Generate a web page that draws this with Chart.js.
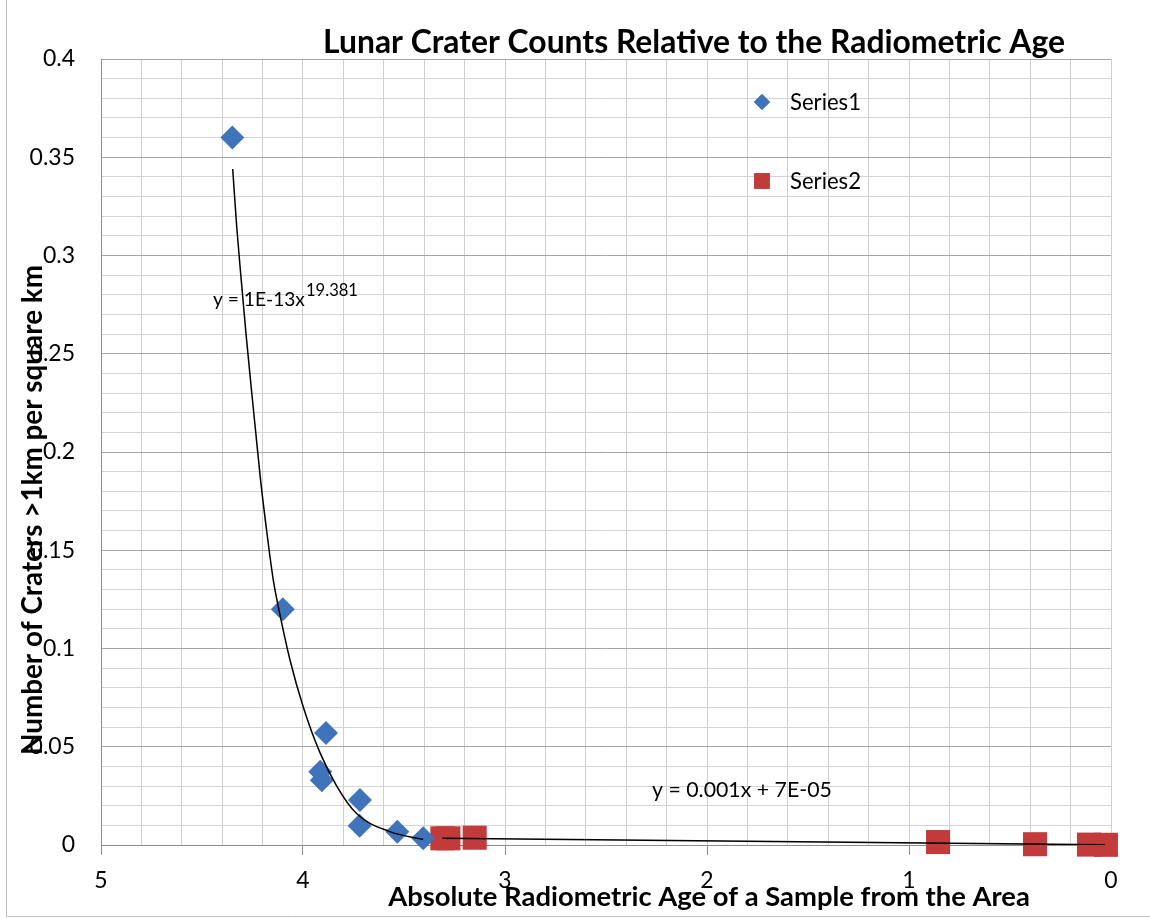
<!DOCTYPE html>
<html>
<head>
<meta charset="utf-8">
<title>Lunar Crater Counts</title>
<script src="https://cdn.jsdelivr.net/npm/chart.js@4/dist/chart.umd.min.js"></script>
<style>
  html, body { margin: 0; padding: 0; background: #fff; }
  #wrap { width: 1150px; height: 918px; position: relative; }
</style>
</head>
<body>
<div id="wrap"><canvas id="myChart" width="1150" height="918"></canvas></div>
<script>
// series1 - blue diamonds (age in Ga, craters per km2)
var s1Age = [4.35, 4.10, 3.886, 3.915, 3.907, 3.718, 3.72, 3.533, 3.405]
var s1Craters = [0.360, 0.120, 0.057, 0.0373, 0.033, 0.0229, 0.0098, 0.0068, 0.0034]

// series2 - red squares
var s2Age = [3.31, 3.28, 3.15, 0.856, 0.376, 0.109, 0.025]
var s2Craters = [0.0034, 0.0034, 0.0037, 0.0015, 0.0004, 0.0002, 0.0001]

// trendlines
var powAge = [4.348, 4.328, 4.307, 4.282, 4.255, 4.235, 4.210, 4.180, 4.147, 4.122, 4.064, 3.998, 3.916, 3.833, 3.735, 3.57, 3.405]
var powY = [0.344, 0.3145, 0.289, 0.260, 0.2314, 0.211, 0.1857, 0.160, 0.1348, 0.1212, 0.094, 0.070, 0.047, 0.030, 0.016, 0.0068, 0.0028]
var linAge = [3.31, 0.03]
var linY = [0.0034, 0.0001]

var xTickLabels = ["0", "1", "2", "3", "4", "5"]
var yTickLabels = ["0", "0.05", "0.1", "0.15", "0.2", "0.25", "0.3", "0.35", "0.4"]

var seriesNames = ["Series1", "Series2"]
var blue = "#3f74bb"
var red = "#c23a3a"
var FONT = "Lato, 'Liberation Sans', sans-serif"

function pts(xs, ys) {
  var out = []
  for (var i = 0; i < xs.length; i++) out.push({x: xs[i], y: ys[i]})
  return out
}

// fit a font size so the text has the wanted width
function fitText(ctx, text, weight, width) {
  var size = 20
  ctx.font = weight + " " + size + "px " + FONT
  var w = ctx.measureText(text).width
  return size * width / w
}

var extras = {
  id: "extras",
  afterDraw: function(chart) {
    var ctx = chart.ctx
    ctx.save()

    // outer frame (left + bottom visible)
    ctx.strokeStyle = "#bdbdbd"
    ctx.lineWidth = 1
    ctx.beginPath()
    ctx.moveTo(6.5, 0)
    ctx.lineTo(6.5, 916.5)
    ctx.lineTo(1150, 916.5)
    ctx.stroke()

    ctx.fillStyle = "#000"
    ctx.textBaseline = "middle"

    // title
    var t = "Lunar Crater Counts Relative to the Radiometric Age"
    var sz = fitText(ctx, t, "bold", 742)
    ctx.font = "bold " + sz + "px " + FONT
    ctx.textAlign = "center"
    ctx.fillText(t, 694, 43)

    // x axis title
    var xt = "Absolute Radiometric Age of a Sample from the Area"
    sz = fitText(ctx, xt, "bold", 642)
    ctx.font = "bold " + sz + "px " + FONT
    ctx.fillText(xt, 709, 897)

    // y axis title
    var yt = "Number of Craters >1km per square km"
    sz = fitText(ctx, yt, "bold", 490)
    ctx.save()
    ctx.translate(33, 510)
    ctx.rotate(-Math.PI / 2)
    ctx.font = "bold " + sz + "px " + FONT
    ctx.fillText(yt, 0, 0)
    ctx.restore()

    // trendline equations
    ctx.textAlign = "left"
    var e1 = "y = 1E-13x"
    sz = fitText(ctx, e1, "normal", 92)
    ctx.font = sz + "px " + FONT
    ctx.fillText(e1, 213, 300)
    sz = fitText(ctx, "19.381", "normal", 52)
    ctx.font = sz + "px " + FONT
    ctx.fillText("19.381", 306, 291)
    var e2 = "y = 0.001x + 7E-05"
    sz = fitText(ctx, e2, "normal", 180)
    ctx.font = sz + "px " + FONT
    ctx.fillText(e2, 652, 790)

    // legend
    var legY = [102, 181]
    var styles = [
      {pointStyle: "rectRot", radius: 8, color: blue},
      {pointStyle: "rect", radius: 11, color: red}
    ]
    sz = fitText(ctx, "Series1", "normal", 71)
    ctx.font = sz + "px " + FONT
    for (var i = 0; i < seriesNames.length; i++) {
      ctx.fillStyle = styles[i].color
      ctx.strokeStyle = styles[i].color
      Chart.helpers.drawPoint(ctx, {pointStyle: styles[i].pointStyle, radius: styles[i].radius, borderWidth: 0, rotation: 0}, 762, legY[i])
      ctx.fill()
      ctx.fillStyle = "#000"
      ctx.fillText(seriesNames[i], 790, legY[i] + 1)
    }
    ctx.restore()
  }
}

new Chart("myChart", {
  type: "scatter",
  data: {
    datasets: [
      {
        type: "line",
        data: pts(powAge, powY),
        borderColor: "#000",
        borderWidth: 1.5,
        pointRadius: 0,
        cubicInterpolationMode: "monotone",
        fill: false,
        order: 0
      },
      {
        type: "line",
        data: pts(linAge, linY),
        borderColor: "#000",
        borderWidth: 1.5,
        pointRadius: 0,
        fill: false,
        order: 0
      },
      {
        label: seriesNames[0],
        data: pts(s1Age, s1Craters),
        pointStyle: "rectRot",
        pointRadius: 12,
        backgroundColor: blue,
        borderColor: blue,
        borderWidth: 0,
        clip: false,
        order: 1
      },
      {
        label: seriesNames[1],
        data: pts(s2Age, s2Craters),
        pointStyle: "rect",
        pointRadius: 17,
        backgroundColor: red,
        borderColor: red,
        borderWidth: 0,
        clip: false,
        order: 1
      }
    ]
  },
  options: {
    responsive: false,
    animation: false,
    layout: { padding: { top: 59, right: 39, bottom: 0, left: 0 } },
    plugins: {
      legend: { display: false },
      title: { display: false },
      tooltip: { enabled: false }
    },
    scales: {
      x: {
        type: "linear",
        reverse: true,
        min: 0,
        max: 5,
        afterFit: function(s) { s.height = 73 },
        border: { color: "#8c8c8c" },
        grid: {
          color: "#cfcfcf",
          tickLength: 10,
          tickColor: function(c) {
            return Math.abs(c.tick.value - Math.round(c.tick.value)) < 1e-6 ? "#8c8c8c" : "rgba(0,0,0,0)"
          }
        },
        ticks: {
          stepSize: 0.2,
          autoSkip: false,
          maxRotation: 0,
          padding: 12,
          color: "#000",
          font: { family: FONT, size: 23 },
          callback: function(v) {
            var r = Math.round(v)
            return Math.abs(v - r) < 1e-6 ? xTickLabels[r] : ""
          }
        }
      },
      y: {
        min: 0,
        max: 0.4,
        afterFit: function(s) { s.width = 101 },
        border: { color: "#8c8c8c" },
        grid: {
          drawTicks: false,
          color: function(c) {
            var k = Math.round(c.tick.value * 100)
            return k % 5 === 0 ? "#a6a6a6" : "#d4d4d4"
          }
        },
        ticks: {
          stepSize: 0.01,
          autoSkip: false,
          padding: 26,
          color: "#000",
          font: { family: FONT, size: 23 },
          callback: function(v) {
            var k = Math.round(v * 100)
            return k % 5 === 0 ? yTickLabels[k / 5] : ""
          }
        }
      }
    }
  },
  plugins: [extras]
})
</script>
</body>
</html>
